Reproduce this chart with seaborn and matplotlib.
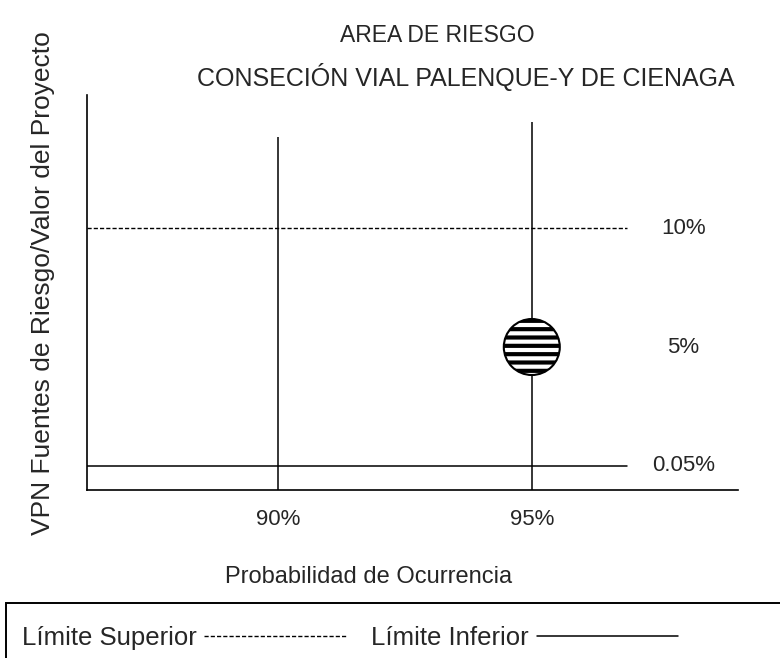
# -*- coding: utf-8 -*-

import numpy as np
import pandas as pd
import matplotlib
matplotlib.use('Agg')
import matplotlib.pyplot as plt
from matplotlib.patches import Rectangle
import seaborn as sns

# datos
probabilidades = [90, 95]
prob_labels = ['90%', '95%']
niveles = ['10%', '5%', '0.05%']
nivel_pos = [3, 2, 1]
limite_superior = 3      # 10%
limite_inferior = 1      # 0.05%
riesgo = pd.DataFrame({'prob': [95], 'nivel': [2]})

sns.set_theme(style='white')
plt.rcParams['font.family'] = ['Liberation Sans', 'DejaVu Sans']
plt.rcParams['hatch.linewidth'] = 3.0
plt.rcParams['hatch.color'] = 'black'

fig = plt.figure(figsize=(7.8, 6.58), dpi=100)
ax = fig.add_axes([0.1115, 0.2553, 0.8346, 0.6003])
ax.set_xlim(86.24, 99.06)
ax.set_ylim(0.798, 4.118)

# lineas verticales de probabilidad
ax.vlines(probabilidades, [0.798, 0.798], [3.765, 3.89],
          color='black', lw=1.1, zorder=2)

# limites
sup = ax.axhline(limite_superior, xmax=0.829, color='black', lw=1.0,
                 linestyle=(0, (3, 1.5)), label='Límite Superior')
inf = ax.axhline(limite_inferior, xmax=0.829, color='black', lw=1.1,
                 label='Límite Inferior')

# punto de riesgo
sns.scatterplot(data=riesgo, x='prob', y='nivel', ax=ax, s=1625, marker='o',
                color='white', edgecolor='black', linewidth=1.5, hatch='--',
                zorder=4, legend=False)

for lab, pos in zip(niveles, nivel_pos):
    ax.text(97.99, pos, lab, ha='center', va='center', fontsize=16)

ax.set_xticks(probabilidades)
ax.set_xticklabels(prob_labels, fontsize=16)
ax.set_yticks([])
ax.tick_params(axis='x', length=0, pad=14)
for s in ['top', 'right']:
    ax.spines[s].set_visible(False)
for s in ['left', 'bottom']:
    ax.spines[s].set_color('black')
    ax.spines[s].set_linewidth(1.2)

ax.set_xlabel('Probabilidad de Ocurrencia', fontsize=17)
ax.xaxis.set_label_coords(0.433, -0.22)
ax.xaxis.label.set_va('center')
ax.set_ylabel('VPN Fuentes de Riesgo/Valor del Proyecto', fontsize=19)
ax.yaxis.set_label_coords(-0.0676, 0.524)
ax.yaxis.label.set_va('center')

fig.text(437 / 780, 1 - 35 / 658, 'AREA DE RIESGO', ha='center', va='center', fontsize=16.5)
fig.text(466 / 780, 1 - 77 / 658, 'CONSECIÓN VIAL PALENQUE-Y DE CIENAGA',
         ha='center', va='center', fontsize=18)

# cuadro de leyenda
fig.add_artist(Rectangle((6 / 780, -0.5), 2, 0.5 + 55 / 658, fill=False,
                         edgecolor='black', lw=1.4, transform=fig.transFigure))
fig.legend(handles=[sup, inf], loc='center left', bbox_to_anchor=(9 / 780, 20 / 658),
           ncol=2, markerfirst=False, frameon=False, fontsize=18.5,
           handlelength=5.5, handletextpad=0.3, columnspacing=1.0, borderpad=0)

fig.savefig('out.png', dpi=100)
